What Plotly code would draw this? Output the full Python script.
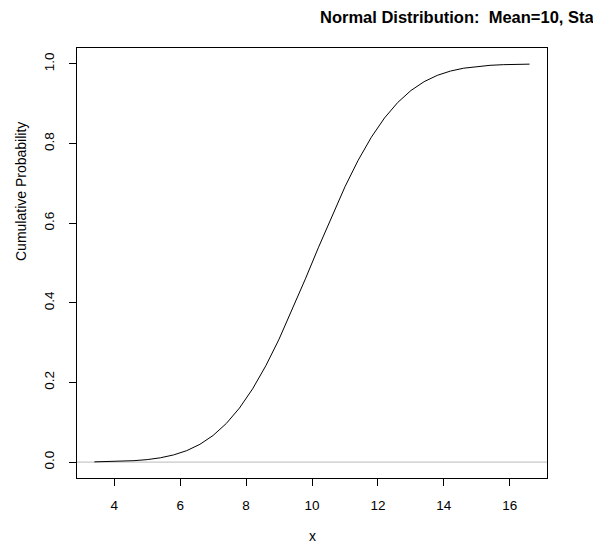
import plotly.graph_objects as go

# Values
x_vals = [3.4, 3.8, 4.2, 4.6, 5.0, 5.4, 5.8, 6.2, 6.6, 7.0, 7.4, 7.8, 8.2, 8.6,
          9.0, 9.4, 9.8, 10.2, 10.6, 11.0, 11.4, 11.8, 12.2, 12.6, 13.0, 13.4,
          13.8, 14.2, 14.6, 15.0, 15.4, 15.8, 16.2, 16.6]
cum_prob = [0.0005, 0.0010, 0.0019, 0.0035, 0.0062, 0.0107, 0.0179, 0.0287,
            0.0446, 0.0668, 0.0968, 0.1357, 0.1841, 0.2420, 0.3085, 0.3821,
            0.4602, 0.5398, 0.6179, 0.6915, 0.7580, 0.8159, 0.8643, 0.9032,
            0.9332, 0.9554, 0.9713, 0.9821, 0.9893, 0.9938, 0.9965, 0.9981,
            0.9990, 0.9995]
x_ticks = [4, 6, 8, 10, 12, 14, 16]
y_ticks = [0.0, 0.2, 0.4, 0.6, 0.8, 1.0]
y_tick_text = ["0.0", "0.2", "0.4", "0.6", "0.8", "1.0"]
title_text = "Normal Distribution:  Mean=10, Standard Deviation=2"

FONT = "Liberation Sans, Arial, sans-serif"

fig = go.Figure()
fig.add_trace(go.Scatter(x=x_vals, y=cum_prob, mode="lines",
                         line=dict(color="black", width=1), hoverinfo="skip",
                         showlegend=False))

fig.add_shape(type="line", xref="paper", yref="y", x0=0, x1=1, y0=0, y1=0,
              line=dict(color="#c8c8c8", width=1.2), layer="below")

fig.update_layout(
    width=593, height=545,
    margin=dict(l=77, r=46, t=48, b=67),
    paper_bgcolor="white", plot_bgcolor="white",
    font=dict(family=FONT, size=14, color="black"),
    showlegend=False,
)
fig.update_xaxes(range=[2.872, 17.128], tickvals=x_ticks, ticks="outside",
                 ticklen=7, tickcolor="black", showline=True, linecolor="black",
                 linewidth=1, mirror=True, showgrid=False, zeroline=False,
                 ticklabelstandoff=8, tickfont=dict(size=13.5))
fig.update_yaxes(range=[-0.04, 1.04], tickvals=y_ticks, ticktext=y_tick_text,
                 ticks="outside", ticklen=7, tickcolor="black", showline=True,
                 linecolor="black", linewidth=1, mirror=True, showgrid=False,
                 zeroline=False, tickangle=-90, ticklabelstandoff=10,
                 tickfont=dict(size=13.5))

fig.add_annotation(text="<b>" + title_text + "</b>", xref="paper", yref="paper",
                   x=(318 - 77) / 470, y=1 + (48 - 17) / 430, xanchor="left",
                   yanchor="middle", showarrow=False,
                   font=dict(size=16.5, family=FONT))
fig.add_annotation(text="Cumulative Probability", textangle=-90, xref="paper",
                   yref="paper", x=(21 - 77) / 470, y=(478 - 192) / 430,
                   xanchor="center", yanchor="middle", showarrow=False,
                   font=dict(size=14, family=FONT))
fig.add_annotation(text="x", xref="paper", yref="paper", x=0.5,
                   y=-(536 - 478) / 430, xanchor="center", yanchor="middle",
                   showarrow=False, font=dict(size=14, family=FONT))

fig.write_html("out.html")
